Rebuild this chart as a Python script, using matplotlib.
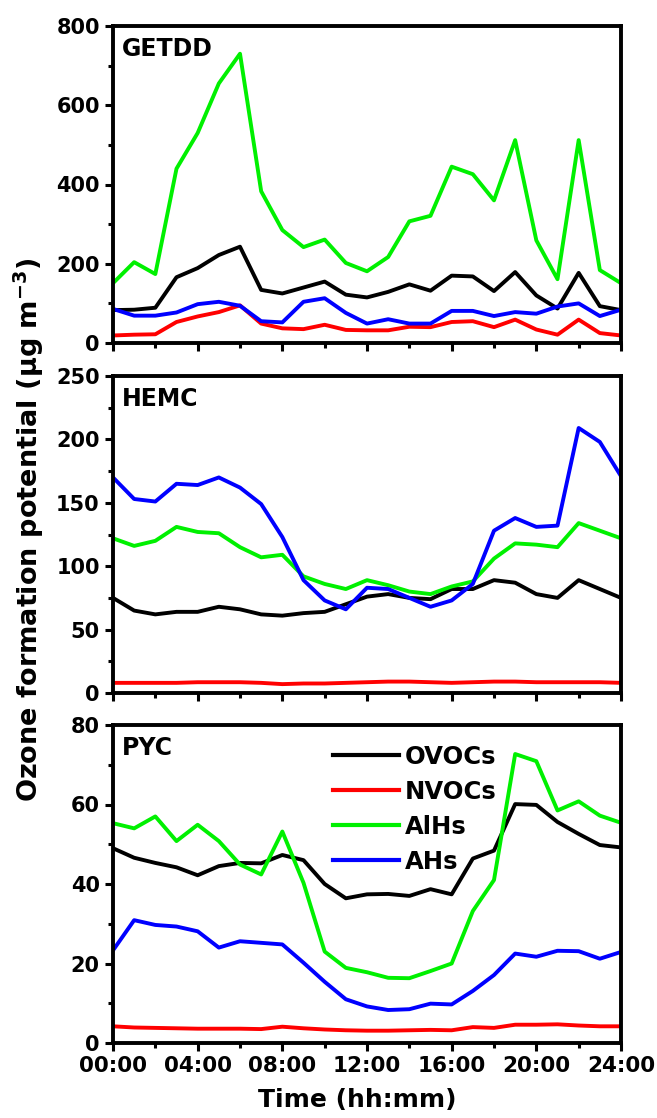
import numpy as np
import matplotlib
matplotlib.use("Agg")
import matplotlib.pyplot as plt
from matplotlib.ticker import MultipleLocator

plt.rcParams['font.family'] = ['DejaVu Sans']
plt.rcParams['font.weight'] = 'bold'

hours = np.arange(0, 25)
tick_hours = [0, 4, 8, 12, 16, 20, 24]
tick_labels = ["00:00", "04:00", "08:00", "12:00", "16:00", "20:00", "24:00"]

series_names = ["OVOCs", "NVOCs", "AlHs", "AHs"]
series_colors = ["#000000", "#ff0000", "#00f000", "#0000ff"]

# GETDD
getdd_ovocs = [83, 84, 89, 166, 189, 222, 243, 134, 125, 140, 155, 122, 115, 129, 148, 132,
               170, 168, 131, 179, 120, 87, 177, 93, 83]
getdd_nvocs = [19, 21, 22, 53, 67, 78, 95, 49, 37, 35, 46, 33, 32, 32, 41, 40,
               53, 55, 40, 59, 34, 21, 59, 25, 19]
getdd_alhs = [151, 204, 174, 440, 530, 655, 730, 383, 285, 242, 261, 202, 181, 217, 307, 321,
              445, 426, 360, 512, 259, 161, 512, 184, 151]
getdd_ahs = [86, 69, 69, 77, 98, 104, 94, 55, 52, 104, 113, 76, 49, 60, 49, 49,
             81, 81, 68, 78, 74, 92, 100, 68, 84]

# HEMC
hemc_ovocs = [75, 65, 62, 64, 64, 68, 66, 62, 61, 63, 64, 70, 76, 78, 75, 74,
              82, 82, 89, 87, 78, 75, 89, 82, 75]
hemc_nvocs = [8, 8, 8, 8, 8.5, 8.5, 8.5, 8, 7, 7.5, 7.5, 8, 8.5, 9, 9, 8.5,
              8, 8.5, 9, 9, 8.5, 8.5, 8.5, 8.5, 8]
hemc_alhs = [122, 116, 120, 131, 127, 126, 115, 107, 109, 92, 86, 82, 89, 85, 80, 78,
             84, 88, 106, 118, 117, 115, 134, 128, 122]
hemc_ahs = [170, 153, 151, 165, 164, 170, 162, 149, 123, 89, 73, 66, 83, 82, 75, 68,
            73, 86, 128, 138, 131, 132, 209, 198, 171]

# PYC
pyc_ovocs = [49, 46.6, 45.3, 44.2, 42.2, 44.5, 45.3, 45.2, 47.3, 46, 40, 36.4, 37.4, 37.5, 37, 38.7,
             37.4, 46.4, 48.4, 60.1, 59.9, 55.6, 52.6, 49.8, 49.2]
pyc_nvocs = [4.2, 3.9, 3.8, 3.7, 3.6, 3.6, 3.6, 3.5, 4.1, 3.7, 3.4, 3.2, 3.1, 3.1, 3.2, 3.3,
             3.2, 4.0, 3.8, 4.6, 4.6, 4.7, 4.4, 4.2, 4.2]
pyc_alhs = [55.3, 54, 57, 50.8, 54.9, 50.8, 44.9, 42.4, 53.2, 40.3, 23, 18.9, 17.8, 16.4, 16.3, 18.1,
            20, 33.2, 41, 72.7, 70.9, 58.5, 60.8, 57.2, 55.4]
pyc_ahs = [23.3, 30.9, 29.7, 29.3, 28.1, 24, 25.6, 25.2, 24.8, 20.2, 15.4, 11, 9.2, 8.3, 8.5, 9.9,
           9.7, 13.1, 17.1, 22.5, 21.7, 23.2, 23.1, 21.2, 22.9]

sites = ["GETDD", "HEMC", "PYC"]
site_data = [
    [getdd_ovocs, getdd_nvocs, getdd_alhs, getdd_ahs],
    [hemc_ovocs, hemc_nvocs, hemc_alhs, hemc_ahs],
    [pyc_ovocs, pyc_nvocs, pyc_alhs, pyc_ahs],
]
ylims = [800, 250, 80]
ymajor = [200, 50, 20]

W, H = 657, 1118
fig = plt.figure(figsize=(W / 100, H / 100), dpi=100)

left, right = 113, 621
panels_px = [(26, 343), (376, 693), (725, 1043)]

axes = []
for i, (top, bot) in enumerate(panels_px):
    ax = fig.add_axes([left / W, 1 - bot / H, (right - left) / W, (bot - top) / H])
    for vals, c, name in zip(site_data[i], series_colors, series_names):
        ax.plot(hours, vals, color=c, lw=2.8, label=name)
    ax.set_xlim(0, 24)
    ax.set_ylim(0, ylims[i])
    ax.xaxis.set_major_locator(MultipleLocator(4))
    ax.xaxis.set_minor_locator(MultipleLocator(2))
    ax.yaxis.set_major_locator(MultipleLocator(ymajor[i]))
    ax.yaxis.set_minor_locator(MultipleLocator(ymajor[i] / 2))
    ax.tick_params(which='both', direction='out', top=False, right=False, width=2.2)
    ax.tick_params(which='major', length=6, labelsize=15)
    ax.tick_params(which='minor', length=3.5)
    for sp in ax.spines.values():
        sp.set_linewidth(2.8)
    ax.set_xticks(tick_hours)
    if i < 2:
        ax.set_xticklabels([])
    else:
        ax.set_xticklabels(tick_labels, fontsize=15.5, fontweight='bold')
    for lab in ax.get_yticklabels():
        lab.set_fontweight('bold')
    ax.text(0.018, 0.965, sites[i], transform=ax.transAxes, ha='left', va='top',
            fontsize=17, fontweight='bold')
    axes.append(ax)

leg = axes[2].legend(loc='upper left', bbox_to_anchor=(0.433, 0.938), frameon=False,
                     borderpad=0, borderaxespad=0, handlelength=2.7, handletextpad=0.25,
                     labelspacing=0.45, prop={'size': 17.5, 'weight': 'bold'})
for ln in leg.get_lines():
    ln.set_linewidth(3)

fig.text(0.043, 0.526, "Ozone formation potential ($\\mathbf{\\mu}$g m$^{\\mathbf{-3}}$)",
         rotation=90, ha='center', va='center', fontsize=19.5, fontweight='bold')
fig.text(0.543, 0.016, "Time (hh:mm)", ha='center', va='center', fontsize=18, fontweight='bold')

fig.savefig("out.png", dpi=100)
